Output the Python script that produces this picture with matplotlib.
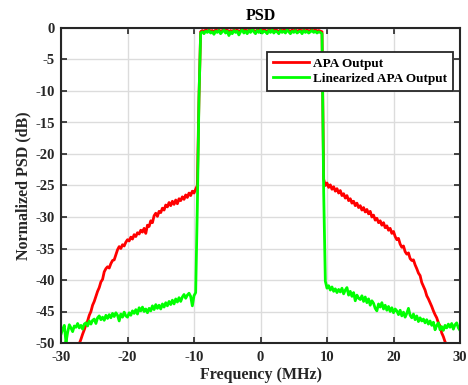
import numpy as np
import matplotlib
matplotlib.use("Agg")
import matplotlib.pyplot as plt

# ---------------- data ----------------
freq_mhz = np.arange(-30.0, 30.0001, 0.25)   # sampling grid, 241 points

apa_left = [-53, -53, -53, -53, -53, -53, -53, -53, -53, -53,
            -51.0, -50.1, -49.4, -48.6, -47.9, -47.1, -46.5, -45.6, -45.0, -44.0,
            -43.4, -42.6, -41.8, -41.2, -40.3, -39.9, -38.7, -38.2, -37.9, -38.1,
            -37.4, -36.9, -36.8, -36.0, -35.2, -34.7, -35.0, -34.4, -34.6, -34.0,
            -33.6, -33.8, -33.2, -33.5, -32.8, -33.1, -32.5, -32.7, -32.1, -32.4,
            -31.8, -32.6, -31.3, -31.5, -30.6, -30.9, -29.8, -29.4, -29.9, -29.1,
            -29.3, -28.6, -28.9, -28.1, -28.4, -27.7, -28.2, -27.5, -28.0, -27.3,
            -27.9, -27.1, -27.4, -26.8, -27.2, -26.5, -26.9, -26.2, -26.6, -25.9,
            -26.2, -25.6]
apa_edge_l = [-25.0, -11.0]
apa_pass = [-0.6, -0.4, -0.6, -0.3, -0.5, -0.3, -0.5, -0.4, -0.7, -0.3,
            -0.5, -0.3, -0.6, -0.4, -0.2, -0.5, -0.3, -0.8, -0.4, -0.6,
            -0.3, -0.5, -0.3, -0.7, -0.4, -0.2, -0.5, -0.3, -0.6, -0.3,
            -0.5, -0.2, -0.4, -0.6, -0.3, -0.5, -0.2, -0.5, -0.3, -0.4,
            -0.6, -0.3, -0.5, -0.2, -0.5, -0.3, -0.4, -0.6, -0.3, -0.5,
            -0.3, -0.5, -0.2, -0.4, -0.6, -0.3, -0.5, -0.3, -0.5, -0.4,
            -0.3, -0.6, -0.3, -0.5, -0.3, -0.5, -0.4, -0.3, -0.5, -0.3,
            -0.5, -0.4, -0.5]
apa_edge_r = [-0.6, -24.0]
apa_right = [-25.0, -24.6, -25.3, -24.9, -25.6, -25.2, -25.9, -25.5, -26.2, -25.8,
             -26.6, -26.3, -27.0, -26.6, -27.4, -27.1, -27.8, -27.5, -28.2, -27.8,
             -28.5, -28.2, -28.9, -28.5, -29.2, -28.8, -29.5, -29.1, -30.0, -29.7,
             -30.5, -30.2, -30.9, -30.6, -31.3, -30.9, -31.7, -31.4, -32.1, -31.8,
             -32.6, -32.3, -33.1, -33.6, -33.4, -34.3, -34.8, -34.6, -35.5, -35.9,
             -35.7, -36.6, -36.9, -36.8, -37.6, -38.2, -38.9, -39.3, -40.4, -41.0,
             -41.6, -42.5, -43.0, -43.6, -44.2, -44.9, -45.5, -46.0, -46.8, -47.3,
             -48.4, -49.0, -49.8, -50.3,
             -53, -53, -53, -53, -53, -53, -53, -53]

lin_left = [-48.6, -47.8, -47.2, -49.9, -48.3, -47.1, -47.6, -48.2, -47.3, -47.5,
            -46.9, -47.6, -47.2, -47.8, -47.0, -46.8, -47.3, -46.5, -47.0, -46.4,
            -46.2, -46.9, -46.0, -45.7, -46.3, -45.9, -46.4, -45.6, -46.1, -45.5,
            -46.0, -45.3, -45.8, -45.2, -45.6, -46.5, -45.4, -45.9, -45.1, -45.7,
            -45.9, -45.2, -45.6, -44.9, -45.3, -44.7, -45.4, -44.4, -44.9, -44.3,
            -45.0, -44.6, -45.2, -44.5, -44.9, -44.1, -44.7, -43.9, -44.5, -44.0,
            -44.6, -43.8, -44.3, -43.6, -44.1, -43.4, -43.9, -43.2, -43.8, -43.0,
            -43.5, -42.8, -43.4, -42.7, -42.3, -42.9, -42.4, -42.1, -42.6, -44.1,
            -42.5, -42.0]
lin_edge_l = [-28.5, -11.0]
lin_pass = [-0.8, -0.6, -0.9, -0.5, -0.7, -0.4, -0.8, -0.6, -1.0, -0.5,
            -0.7, -0.4, -0.9, -0.6, -0.3, -0.8, -0.5, -1.2, -0.6, -0.9,
            -0.4, -0.7, -0.5, -1.1, -0.6, -0.3, -0.8, -0.5, -0.9, -0.4,
            -0.7, -0.2, -0.6, -0.9, -0.4, -0.7, -0.3, -0.8, -0.5, -0.6,
            -0.9, -0.4, -0.7, -0.3, -0.8, -0.5, -0.6, -0.9, -0.4, -0.7,
            -0.5, -0.8, -0.3, -0.6, -0.9, -0.5, -0.7, -0.4, -0.8, -0.6,
            -0.5, -0.9, -0.4, -0.7, -0.5, -0.8, -0.6, -0.4, -0.7, -0.5,
            -0.8, -0.6, -0.7]
lin_edge_r = [-0.9, -26.0]
lin_right = [-40.2, -41.3, -40.9, -41.6, -41.1, -41.8, -41.4, -42.0, -41.5, -41.9,
             -41.3, -42.2, -41.6, -41.2, -42.4, -41.8, -42.6, -42.0, -43.3, -42.4,
             -42.9, -43.1, -42.5, -43.4, -42.7, -43.6, -43.0, -44.0, -43.3, -43.7,
             -44.5, -44.9, -43.8, -44.3, -43.6, -44.6, -44.0, -44.8, -44.2, -45.0,
             -44.4, -45.2, -44.6, -44.9, -45.5, -44.8, -45.7, -45.1, -45.9, -45.3,
             -44.5, -45.6, -46.0, -45.4, -46.3, -45.7, -46.6, -46.0, -46.5, -46.2,
             -46.8, -46.3, -47.0, -46.5, -47.2, -46.7, -47.9, -47.2, -46.8, -47.9,
             -47.4, -48.0, -47.2, -47.6, -47.0, -47.5, -46.9, -47.8, -47.1, -46.8,
             -47.6, -48.0]

apa_db = np.array(apa_left + apa_edge_l + apa_pass + apa_edge_r + apa_right)
lin_db = np.array(lin_left + lin_edge_l + lin_pass + lin_edge_r + lin_right)

series_labels = ["APA Output", "Linearized APA Output"]
x_ticks = [-30, -20, -10, 0, 10, 20, 30]
y_ticks = [0, -5, -10, -15, -20, -25, -30, -35, -40, -45, -50]

# ---------------- plot ----------------
plt.rcParams['font.family'] = ['Liberation Serif', 'DejaVu Serif']
plt.rcParams['font.weight'] = 'bold'
plt.rcParams['axes.unicode_minus'] = False

fig = plt.figure(figsize=(4.68, 3.85), dpi=100)
ax = fig.add_axes([61/468, 42/385, 399/468, 315/385])

ax.plot(freq_mhz, apa_db, color='#ff0000', lw=2.0, label=series_labels[0])
ax.plot(freq_mhz, lin_db, color='#00ff00', lw=2.0, label=series_labels[1])

ax.set_xlim(-30, 30)
ax.set_ylim(-50, 0)
ax.set_xticks(x_ticks)
ax.set_yticks(y_ticks)
ax.tick_params(direction='in', length=4, width=1.2, top=True, right=True,
               labelsize=10.5, colors='#262626')
ax.tick_params(axis='x', pad=6)
ax.tick_params(axis='y', pad=4.5)
for lab in ax.get_xticklabels() + ax.get_yticklabels():
    lab.set_fontweight('bold')
ax.grid(True, color='#dcdcdc', lw=1.0)
ax.set_axisbelow(True)
for s in ax.spines.values():
    s.set_linewidth(1.5)
    s.set_color('#262626')

ax.set_title('PSD', fontsize=11.5, fontweight='bold', pad=6, color='black')
ax.set_xlabel('Frequency (MHz)', fontsize=11.5, fontweight='bold', labelpad=2, color='#262626')
ax.set_ylabel('Normalized PSD (dB)', fontsize=11.5, fontweight='bold', labelpad=3, color='#262626')

leg = ax.legend(loc='upper right', bbox_to_anchor=(0.982, 0.924), borderaxespad=0,
                fancybox=False, edgecolor='#262626', framealpha=1,
                prop={'weight': 'bold', 'size': 9.5}, handlelength=2.7,
                borderpad=0.45, labelspacing=0.2, handletextpad=0.3)
leg.get_frame().set_linewidth(1.3)

fig.savefig('out.png', dpi=100)
